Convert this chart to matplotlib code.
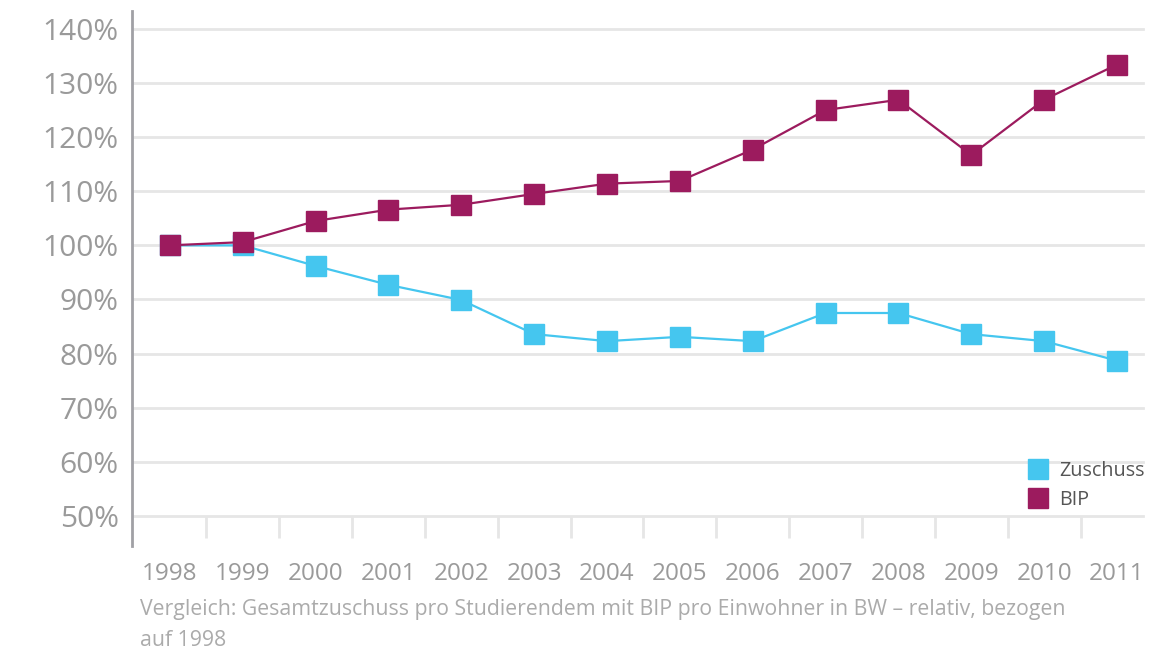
import matplotlib.pyplot as plt
from matplotlib.lines import Line2D

plt.rcParams['font.family'] = ['Open Sans', 'DejaVu Sans']

years = ['1998', '1999', '2000', '2001', '2002', '2003', '2004',
         '2005', '2006', '2007', '2008', '2009', '2010', '2011']
zuschuss = [100, 100, 96.2, 92.7, 89.9, 83.6, 82.3, 83.1, 82.3, 87.5, 87.5, 83.6, 82.3, 78.7]
bip = [100, 100.6, 104.5, 106.6, 107.5, 109.5, 111.4, 111.9, 117.7, 125.0, 126.9, 116.7, 126.9, 133.4]
yticks = [50, 60, 70, 80, 90, 100, 110, 120, 130, 140]

c_zu = '#45c6ef'
c_bip = '#9c1b5e'
grid_c = '#e6e6e6'
txt_c = '#9a9a9a'

fig = plt.figure(figsize=(11.49, 6.54), dpi=100)
ax = fig.add_axes([132 / 1149, 108 / 654, 1 - 132 / 1149, 535 / 654])

x = list(range(len(years)))
ax.set_xlim(-0.52, 13.44)
ax.set_ylim(44.45, 143.3)

for v in yticks:
    ax.axhline(v, xmin=0, xmax=0.994, color=grid_c, lw=2, zorder=0)
ax.vlines([i + 0.5 for i in range(len(years) - 1)], 45.9, 50, color=grid_c, lw=2, zorder=0)

ax.plot(x, zuschuss, color=c_zu, lw=1.6, marker='s', ms=15, zorder=3)
ax.plot(x, bip, color=c_bip, lw=1.6, marker='s', ms=15, zorder=4)

for s in ['top', 'right', 'bottom']:
    ax.spines[s].set_visible(False)
ax.spines['left'].set_color('#a0a0a5')
ax.spines['left'].set_linewidth(2)

ax.set_yticks(yticks)
ax.set_yticklabels([f'{v}%' for v in yticks])
ax.set_xticks(x)
ax.set_xticklabels(years)
ax.tick_params(axis='y', length=0, pad=9.5, labelsize=21.5, labelcolor=txt_c)
ax.tick_params(axis='x', length=0, pad=11.5, labelsize=17.5, labelcolor=txt_c)

handles = [Line2D([], [], color=c_zu, marker='s', ms=15, ls=''),
           Line2D([], [], color=c_bip, marker='s', ms=15, ls='')]
leg = ax.legend(handles, ['Zuschuss', 'BIP'], loc='upper left',
                bbox_to_anchor=(1018 / 1149, 1 - 451 / 654), bbox_transform=fig.transFigure,
                frameon=False, fontsize=14.2, handlelength=1.0, handletextpad=0.6,
                labelspacing=0.45, borderpad=0)
for t in leg.get_texts():
    t.set_color('#555555')

fig.text(140 / 1149, 1 - 610 / 654,
         'Vergleich: Gesamtzuschuss pro Studierendem mit BIP pro Einwohner in BW – relativ, bezogen',
         fontsize=15.3, color='#ababab', va='center', ha='left')
fig.text(140 / 1149, 1 - 640 / 654, 'auf 1998',
         fontsize=15.3, color='#ababab', va='center', ha='left')

fig.savefig('out.png', dpi=100)
